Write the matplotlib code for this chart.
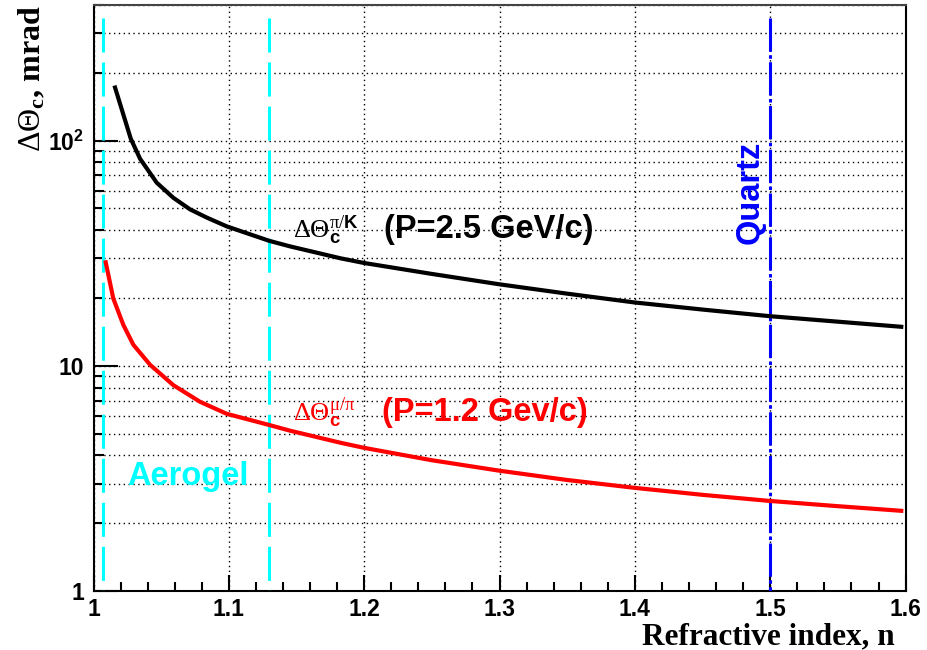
import matplotlib
matplotlib.use("Agg")
import matplotlib.pyplot as plt
from matplotlib.ticker import FixedLocator, MultipleLocator, LogLocator, NullFormatter, FixedFormatter

plt.rcParams['mathtext.fontset'] = 'custom'
plt.rcParams['mathtext.rm'] = 'Liberation Serif'
plt.rcParams['mathtext.it'] = 'Liberation Serif:italic'
plt.rcParams['mathtext.bf'] = 'Liberation Serif:bold'
plt.rcParams['mathtext.sf'] = 'Liberation Sans:bold'
plt.rcParams['mathtext.default'] = 'rm'
plt.rcParams['lines.scale_dashes'] = False

# ---- data ----
n_pik = [1.0159, 1.0275, 1.0344, 1.0467, 1.059, 1.0713, 1.0837, 1.0984, 1.1297,
         1.1452, 1.1826, 1.2, 1.2496, 1.3, 1.3501, 1.4, 1.4507, 1.5, 1.5499, 1.5968]
dtheta_pik = [172, 102, 83.0, 65.0, 55.7, 49.5, 45.5, 41.6, 35.9,
              33.9, 30.0, 28.6, 25.6, 23.0, 20.9, 19.1, 17.75, 16.6, 15.7, 14.9]

n_mupi = [1.009, 1.0146, 1.022, 1.0294, 1.0418, 1.059, 1.0787, 1.0984, 1.1297,
          1.1452, 1.1826, 1.2, 1.2496, 1.3, 1.3501, 1.4, 1.4507, 1.5, 1.5499, 1.5968]
dtheta_mupi = [28.8, 19.9, 15.2, 12.4, 10.1, 8.2, 6.92, 6.12, 5.46,
               5.15, 4.55, 4.32, 3.81, 3.42, 3.11, 2.87, 2.67, 2.51, 2.38, 2.27]

aerogel_n = [1.007, 1.13]
quartz_n = [1.5]
marker_top = 350

x_ticks = [1.0, 1.1, 1.2, 1.3, 1.4, 1.5, 1.6]
x_tick_labels = ['1', '1.1', '1.2', '1.3', '1.4', '1.5', '1.6']
y_ticks = [1, 10, 100]
y_tick_labels = ['1', '10', r'$\mathsf{10^{2}}$']

fig = plt.figure(figsize=(9.27, 6.5), dpi=100)
ax = fig.add_axes([0.1009, 0.0908, 0.876, 0.9015])
ax.set_yscale('log')
ax.set_xlim(1.0, 1.6)
ax.set_ylim(1, 400)

# grid
grid_kw = dict(color='black', linestyle=(0, (1, 2.5)), linewidth=1.0)
ax.xaxis.grid(True, which='major', **grid_kw)
ax.yaxis.grid(True, which='both', **grid_kw)

# vertical markers
for xv in aerogel_n:
    ax.plot([xv, xv], [marker_top, 1], color='#00ffff', lw=2.2,
            linestyle=(0, (24.5, 7.2)), zorder=3)
for xv in quartz_n:
    ax.plot([xv, xv], [marker_top, 1], color='#0000ff', lw=2.2,
            linestyle=(0, (24, 2.5, 2.5, 2.5)), zorder=3)

# curves
ax.plot(n_pik, dtheta_pik, color='black', lw=3.0, zorder=4, solid_joinstyle='round')
ax.plot(n_mupi, dtheta_mupi, color='#ff0000', lw=3.0, zorder=4, solid_joinstyle='round')

# ticks
ax.xaxis.set_major_locator(FixedLocator(x_ticks))
ax.xaxis.set_major_formatter(FixedFormatter(x_tick_labels))
ax.xaxis.set_minor_locator(MultipleLocator(0.02))
ax.yaxis.set_major_locator(FixedLocator(y_ticks))
ax.yaxis.set_major_formatter(FixedFormatter(y_tick_labels))
ax.yaxis.set_minor_locator(LogLocator(base=10, subs=range(2, 10), numticks=20))
ax.yaxis.set_minor_formatter(NullFormatter())

ax.tick_params(axis='both', which='both', direction='in', width=1.5,
               top=False, right=False)
ax.tick_params(axis='x', which='major', length=11.5, pad=5)
ax.tick_params(axis='x', which='minor', length=6.5)
ax.tick_params(axis='y', which='major', length=17, pad=7)
ax.tick_params(axis='y', which='minor', length=7)
for lab in ax.get_xticklabels() + ax.get_yticklabels():
    lab.set_fontfamily('Liberation Sans')
    lab.set_fontweight('bold')
    lab.set_fontsize(16.5)

for s in ax.spines.values():
    s.set_linewidth(1.5)
ax.spines['top'].set_color('#444444')

# axis titles
ax.set_xlabel('Refractive index, n', fontfamily='Liberation Serif',
              fontweight='bold', fontsize=22.5, ha='right')
ax.xaxis.set_label_coords(0.987, -0.053)
ax.set_ylabel(r'$\Delta\Theta_{\mathbf{c}}$, mrad', fontfamily='Liberation Serif',
              fontweight='bold', fontsize=23, loc='top', labelpad=0)

# annotations
ax.text(1.1477, 36.9, r'$\Delta\Theta_{\mathsf{c}}^{\pi/\mathsf{K}}$', color='black',
        fontsize=19, va='baseline', ha='left')
ax.text(1.2147, 36.9, '(P=2.5 GeV/c)', color='black', fontfamily='Liberation Sans',
        fontweight='bold', fontsize=23.5, va='baseline', ha='left')
ax.text(1.1477, 5.7, r'$\Delta\Theta_{\mathsf{c}}^{\mu/\pi}$', color='#ff0000',
        fontsize=19, va='baseline', ha='left')
ax.text(1.213, 5.7, '(P=1.2 Gev/c)', color='#ff0000', fontfamily='Liberation Sans',
        fontweight='bold', fontsize=23.5, va='baseline', ha='left')
ax.text(1.0245, 2.95, 'Aerogel', color='#00ffff', fontfamily='Liberation Sans',
        fontweight='bold', fontsize=23.5, va='baseline', ha='left')
ax.text(1.4852, 59, 'Quartz', color='#0000ff', fontfamily='Liberation Sans',
        fontweight='bold', fontsize=23.5, rotation=90, va='center', ha='center')

fig.savefig('out.png', dpi=100)
